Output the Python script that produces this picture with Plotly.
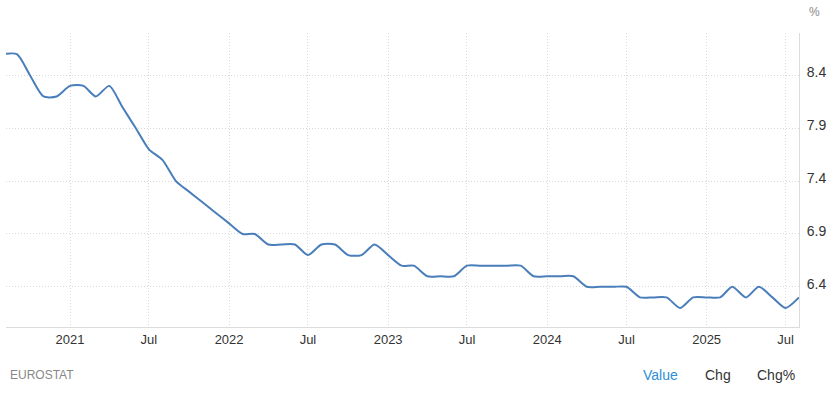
import plotly.graph_objects as go
import pandas as pd

start_month = "2020-08-01"
values = [8.6, 8.6, 8.4, 8.2, 8.2,
          8.3, 8.3, 8.2, 8.3, 8.1, 7.9, 7.7, 7.6, 7.4, 7.3, 7.2, 7.1,
          7.0, 6.9, 6.9, 6.8, 6.8, 6.8, 6.7, 6.8, 6.8, 6.7, 6.7, 6.8,
          6.7, 6.6, 6.6, 6.5, 6.5, 6.5, 6.6, 6.6, 6.6, 6.6, 6.6, 6.5,
          6.5, 6.5, 6.5, 6.4, 6.4, 6.4, 6.4, 6.3, 6.3, 6.3, 6.2, 6.3,
          6.3, 6.3, 6.4, 6.3, 6.4, 6.3, 6.2, 6.3]
dates = pd.date_range(start_month, periods=len(values), freq="MS")

tick_dates = ["2021-01-01", "2021-07-01", "2022-01-01", "2022-07-01", "2023-01-01",
              "2023-07-01", "2024-01-01", "2024-07-01", "2025-01-01", "2025-07-01"]
tick_labels = ["2021", "Jul", "2022", "Jul", "2023", "Jul", "2024", "Jul", "2025", "Jul"]
y_ticks = [6.4, 6.9, 7.4, 7.9, 8.4]

fig = go.Figure()
fig.add_trace(go.Scatter(
    x=dates, y=values, mode="lines",
    line=dict(color="#4a7ebb", width=2, shape="spline", smoothing=0.7),
    hoverinfo="skip", showlegend=False,
))

W, H = 833, 401
ML, MR, MT, MB = 6, 34, 33, 74

fig.update_layout(
    width=W, height=H,
    margin=dict(l=ML, r=MR, t=MT, b=MB),
    paper_bgcolor="white", plot_bgcolor="white",
    font=dict(family="Liberation Sans, Arial, sans-serif", size=13, color="#333"),
    xaxis=dict(
        range=["2020-08-07", "2025-08-01"],
        tickvals=tick_dates, ticktext=tick_labels,
        showgrid=True, gridcolor="#d9d9d9", griddash="1px,2px", gridwidth=1,
        showline=True, linecolor="#dcdcdc", linewidth=1,
        ticks="", tickfont=dict(size=13, color="#333"),
        zeroline=False,
    ),
    yaxis=dict(
        range=[6.02, 8.8], side="right",
        tickvals=y_ticks, ticktext=[f"{v:.1f}" for v in y_ticks],
        showgrid=True, gridcolor="#d9d9d9", griddash="1px,2px", gridwidth=1,
        showline=True, linecolor="#dcdcdc", linewidth=1,
        ticks="", ticklabelstandoff=4, ticklabelshift=-3,
        tickfont=dict(size=14, color="#333"),
        zeroline=False,
    ),
)

pw = W - ML - MR
ph = H - MT - MB
def px(xp):
    return (xp - ML) / pw
def py(yp):
    return (H - MB - yp) / ph

def label(text, xp, yp, size, color, xanchor="center"):
    fig.add_annotation(text=text, x=px(xp), y=py(yp), xref="paper", yref="paper",
                       xanchor=xanchor, yanchor="middle", showarrow=False,
                       font=dict(size=size, color=color))

label("%", 815, 12, 12, "#888")
label("EUROSTAT", 8, 375, 12, "#888", xanchor="left")
label("Value", 660, 375, 14, "#2d8fd5")
label("Chg", 718, 375, 14, "#333")
label("Chg%", 776, 375, 14, "#333")

fig.write_html("out.html", config={"displayModeBar": False},
               post_script="document.body.style.margin='0';document.body.style.overflow='hidden';")
